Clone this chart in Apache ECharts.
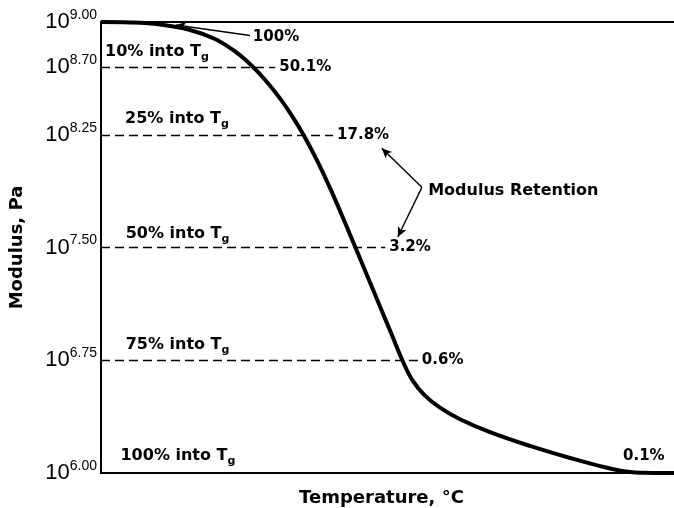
<!DOCTYPE html>
<html><head><meta charset="utf-8">
<script src="https://cdn.jsdelivr.net/npm/echarts@6/dist/echarts.min.js"></script>
<style>html,body{margin:0;padding:0;background:#fff}#c{width:674px;height:508px}</style>
</head><body><div id="c"></div>
<script>
// ---- data ----
const temperature = [0, 5.06, 10.30, 15.53, 19.90, 23.39, 26.18, 28.62, 31.24, 33.33, 35.43, 37.87, 40.31, 42.58, 44.50, 46.60, 48.69, 50.79, 52.71, 54.45, 56.54, 59.16, 62.65, 67.89, 74.87, 81.85, 87.96, 92.32, 96.68, 100];
const logModulus  = [9.000, 8.997, 8.983, 8.947, 8.887, 8.804, 8.714, 8.616, 8.492, 8.376, 8.244, 8.067, 7.867, 7.666, 7.491, 7.299, 7.108, 6.916, 6.740, 6.611, 6.515, 6.435, 6.358, 6.272, 6.180, 6.100, 6.038, 6.006, 6.000, 6.000];
const yTicks = [6.00, 6.75, 7.50, 8.25, 8.70, 9.00];
const retentionLevels = [8.70, 8.25, 7.50, 6.75];
const retentionText = ['50.1%', '17.8%', '3.2%', '0.6%'];
const intoTgText = ['10%', '25%', '50%', '75%', '100%'];
const topText = '100%';
const tailText = '0.1%';
const calloutText = 'Modulus Retention';

// ---- annotation placement (data coordinates) ----
const dashEnd = [30.4, 40.5, 49.6, 55.3];
const intoPos = [[0.7, 8.80], [4.2, 8.358], [4.3, 7.59], [4.3, 6.855], [3.4, 6.116]];

const BOLD = 'DejaVu Sans';
const boldStyle = (size) => ({ fontFamily: BOLD, fontWeight: 'bold', fontSize: size, color: '#000' });

const curve = temperature.map((t, i) => [t, logModulus[i]]);

const dashLines = retentionLevels.map((lv, i) => [
  { coord: [0, lv], label: { show: true, position: 'end', distance: 4, formatter: () => retentionText[i], ...boldStyle(15) } },
  { coord: [dashEnd[i], lv] }
]);

const arrowStyle = { type: 'solid', width: 1.4, color: '#000' };
const arrows = [
  [{ coord: [26.0, 8.91], symbol: 'none', lineStyle: arrowStyle }, { coord: [13.1, 8.98], symbol: 'arrow' }],
  [{ coord: [56.0, 7.90], symbol: 'none', lineStyle: arrowStyle }, { coord: [49.0, 8.16], symbol: 'arrow' }],
  [{ coord: [56.0, 7.90], symbol: 'none', lineStyle: arrowStyle }, { coord: [51.8, 7.57], symbol: 'arrow' }]
];

const textPoint = (coord, fmt, rich, size) => ({
  coord: coord, symbol: 'circle', symbolSize: 0,
  label: { show: true, position: 'right', distance: 0, formatter: () => fmt, ...boldStyle(size), rich: rich }
});
const subRich = {
  tx: { fontFamily: BOLD, fontWeight: 'bold', fontSize: 16, lineHeight: 22, color: '#000' },
  sb: { fontFamily: BOLD, fontWeight: 'bold', fontSize: 11, lineHeight: 11, verticalAlign: 'bottom', color: '#000' }
};
const points = intoTgText.map((t, i) => textPoint(intoPos[i], '{tx|' + t + ' into T}{sb|g}', subRich, 16));
points.push(textPoint([26.5, 8.90], topText, null, 15));
points.push(textPoint([91.1, 6.11], tailText, null, 15));
points.push(textPoint([57.1, 7.88], calloutText, null, 16));

const chart = echarts.init(document.getElementById('c'), null, { renderer: 'canvas' });
chart.setOption({
  animation: false,
  backgroundColor: '#fff',
  grid: { left: 101, right: 0, top: 22, bottom: 35, containLabel: false, outerBoundsMode: 'none' },
  xAxis: [{
    type: 'value', min: 0, max: 100, position: 'bottom',
    name: 'Temperature, °C', nameLocation: 'middle', nameGap: 16,
    nameTextStyle: { ...boldStyle(18), padding: [0, 12, 0, 0] },
    axisLine: { show: true, onZero: false, lineStyle: { color: '#000', width: 2 } },
    axisTick: { show: false }, axisLabel: { show: false }, splitLine: { show: false }
  }, {
    type: 'value', min: 0, max: 100, position: 'top',
    axisLine: { show: true, onZero: false, lineStyle: { color: '#000', width: 2 } },
    axisTick: { show: false }, axisLabel: { show: false }, splitLine: { show: false }
  }],
  yAxis: {
    type: 'value', min: 6, max: 9,
    name: 'Modulus, Pa', nameLocation: 'middle', nameGap: 75, nameRotate: 90,
    nameTextStyle: boldStyle(18),
    axisLine: { show: true, lineStyle: { color: '#000', width: 2 } },
    axisTick: { show: false }, splitLine: { show: false },
    axisLabel: {
      show: true, customValues: yTicks, margin: 4,
      formatter: (v) => '{b|10}{s|' + v.toFixed(2) + '}',
      rich: {
        b: { fontFamily: 'Liberation Sans', fontSize: 22, lineHeight: 28, color: '#000' },
        s: { fontFamily: 'Liberation Sans', fontSize: 14, lineHeight: 14, verticalAlign: 'top', color: '#000' }
      }
    }
  },
  series: [{
    type: 'line', data: curve, xAxisIndex: 0, yAxisIndex: 0,
    showSymbol: false, symbol: 'none', smooth: 0.4, clip: false,
    lineStyle: { color: '#000', width: 4 },
    markLine: {
      silent: true, symbol: ['none', 'none'], symbolSize: [7, 10], animation: false,
      lineStyle: { color: '#000', width: 1.4, type: [9, 5] },
      label: { show: false },
      data: dashLines.concat(arrows)
    },
    markPoint: { silent: true, animation: false, data: points }
  }]
});
</script></body></html>
